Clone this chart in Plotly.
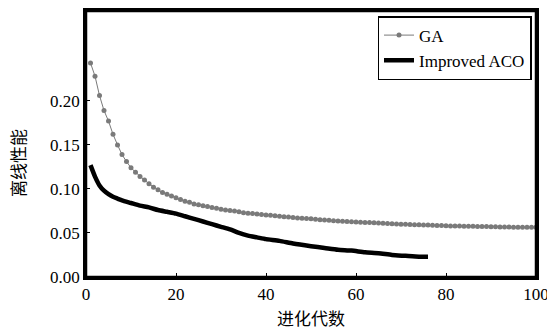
import plotly.graph_objects as go

ga_x = list(range(1, 101))
ga_y = [0.243, 0.228, 0.206, 0.189, 0.177, 0.162, 0.150, 0.139, 0.131, 0.124,
        0.119, 0.114, 0.110, 0.106, 0.102, 0.099, 0.096, 0.094, 0.092, 0.090,
        0.088, 0.086, 0.085, 0.083, 0.082, 0.081, 0.080, 0.079, 0.078, 0.077,
        0.076, 0.0755, 0.075, 0.074, 0.073, 0.0725, 0.072, 0.0715, 0.071, 0.0705,
        0.070, 0.0695, 0.069, 0.0685, 0.068, 0.0675, 0.067, 0.0668, 0.0665, 0.066,
        0.0655, 0.065, 0.0648, 0.0645, 0.064, 0.0637, 0.0634, 0.0631, 0.0628, 0.0625,
        0.0622, 0.062, 0.0618, 0.0615, 0.0612, 0.061, 0.0608, 0.0605, 0.0602, 0.060,
        0.0598, 0.0596, 0.0594, 0.0592, 0.059, 0.0589, 0.0588, 0.0586, 0.0584, 0.0582,
        0.058, 0.0579, 0.0578, 0.0577, 0.0576, 0.0575, 0.0574, 0.0573, 0.0572, 0.0571,
        0.057, 0.0569, 0.0568, 0.0567, 0.0566, 0.0566, 0.0565, 0.0565, 0.0564, 0.0564]

aco_x = [1, 2, 3, 4, 5, 6, 7, 8, 10, 12, 14, 16, 18, 20, 22, 24, 26, 28, 30, 32,
         34, 36, 38, 40, 43, 46, 50, 53, 56, 59, 62, 65, 68, 71, 74, 76]
aco_y = [0.127, 0.114, 0.104, 0.098, 0.094, 0.091, 0.089, 0.087, 0.084, 0.081,
         0.079, 0.076, 0.074, 0.072, 0.069, 0.066, 0.063, 0.060, 0.057, 0.054,
         0.050, 0.047, 0.045, 0.043, 0.041, 0.038, 0.035, 0.033, 0.031, 0.030,
         0.028, 0.027, 0.025, 0.024, 0.023, 0.023]

x_ticks = [0, 20, 40, 60, 80, 100]
y_ticks = [0.00, 0.05, 0.10, 0.15, 0.20]
y_tick_text = ["0.00", "0.05", "0.10", "0.15", "0.20"]

serif = "Liberation Serif"
cjk = "Noto Sans CJK SC"

fig = go.Figure()
fig.add_trace(go.Scatter(
    x=ga_x, y=ga_y, mode="lines+markers", name="GA",
    line=dict(color="#7a7a7a", width=1),
    marker=dict(color="#7a7a7a", size=5, symbol="circle"),
))
fig.add_trace(go.Scatter(
    x=aco_x, y=aco_y, mode="lines", name="Improved ACO",
    line=dict(color="black", width=4.5, shape="spline", smoothing=0.6),
))

fig.update_layout(
    template="none",
    width=547, height=331,
    margin=dict(l=86, r=11, t=11, b=54),
    paper_bgcolor="white", plot_bgcolor="white",
    font=dict(family=serif, size=17, color="black"),
    showlegend=True,
    legend=dict(
        x=0.99, y=0.981, xanchor="right", yanchor="top",
        bgcolor="white", bordercolor="black", borderwidth=1.5,
        font=dict(family=serif, size=17, color="black"),
        itemwidth=30, tracegroupgap=0,
    ),
    xaxis=dict(
        range=[0, 100], tickvals=x_ticks, ticks="inside", ticklen=4,
        tickcolor="black", tickwidth=1, automargin=False,
        ticklabeloverflow="allow",
        showline=True, linecolor="black", linewidth=2.5, mirror=True,
        showgrid=False, zeroline=False,
        tickfont=dict(family=serif, size=17, color="black"),
    ),
    yaxis=dict(
        range=[0, 0.302], tickvals=y_ticks, ticktext=y_tick_text,
        ticks="inside", ticklen=4, tickcolor="black", tickwidth=1,
        automargin=False, ticklabeloverflow="allow",
        showline=True, linecolor="black", linewidth=2.5, mirror=True,
        showgrid=False, zeroline=False,
        tickfont=dict(family=serif, size=17, color="black"),
    ),
    shapes=[
        dict(type="rect", xref="paper", yref="paper", x0=0, x1=1, y0=0, y1=1,
             line=dict(color="black", width=2.5), fillcolor="rgba(0,0,0,0)",
             layer="above"),
    ],
    annotations=[
        dict(text="进化代数", xref="paper", yref="paper", x=0.5, y=-0.154,
             xanchor="center", yanchor="middle", showarrow=False,
             font=dict(family=cjk, size=17, color="black")),
        dict(text="离线性能", xref="paper", yref="paper", x=-0.151, y=0.4286,
             xanchor="center", yanchor="middle", showarrow=False, textangle=-90,
             font=dict(family=cjk, size=17, color="black")),
    ],
)

fig.write_html(
    "out.html",
    config={"displayModeBar": False, "responsive": False},
    post_script=(
        "document.documentElement.style.margin='0';"
        "document.documentElement.style.overflow='hidden';"
        "document.body.style.margin='0';"
        "document.body.style.overflow='hidden';"
        "var gd=document.getElementById('{plot_id}');"
        "Plotly.relayout(gd,{width:547,height:331});"
    ),
)
